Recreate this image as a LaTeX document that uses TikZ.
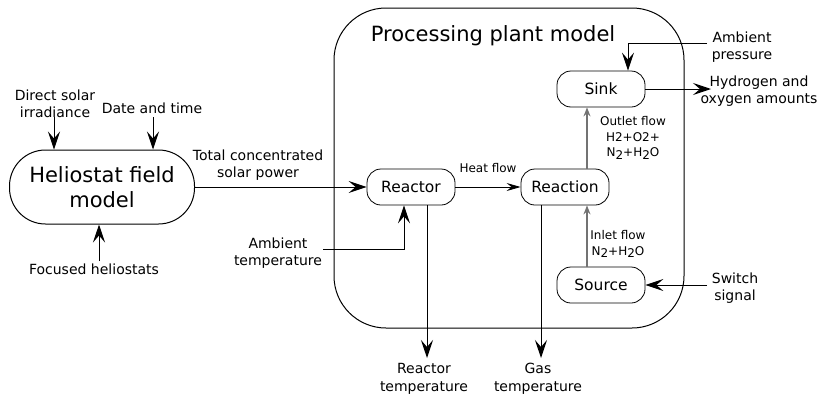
\documentclass[tikz,border=0pt]{standalone}
\usepackage{fontspec}
\setmainfont{DejaVu Sans}
\usetikzlibrary{arrows.meta}
\newcommand{\sub}[1]{\raisebox{-0.35ex}{#1}}
\tikzset{
  big/.style={font=\fontsize{21}{25}\selectfont},
  blk/.style={draw, line width=0.8pt, rounded corners=14pt, minimum width=88pt, minimum height=36pt, inner sep=0pt, font=\fontsize{15.5}{18}\selectfont},
  lbl/.style={align=center, inner sep=0pt, font=\fontsize{14}{17.5}\selectfont},
  sml/.style={align=center, inner sep=0pt, font=\fontsize{12}{15.5}\selectfont},
  bigarrow/.style={-{Stealth[length=18pt,width=12pt,inset=7pt]}, line width=1pt},
  midarrow/.style={-{Stealth[length=14pt,width=8pt,inset=5pt]}, line width=0.8pt},
  grayarrow/.style={-{Stealth[length=9pt,width=7pt,inset=3pt]}, line width=1.2pt, draw=black!55},
}
\begin{document}
\begin{tikzpicture}[x=1pt,y=-1pt]
\useasboundingbox (0,0) rectangle (822,394);
% plant box
\draw[line width=1pt, rounded corners=52pt] (334,8) rectangle (684,328);
\node[big, inner sep=0pt] (title) at (493,36) {Processing plant model};
% heliostat
\node[draw, line width=1pt, rounded corners=36pt, minimum width=185pt, minimum height=74pt, inner sep=0pt, align=center, big] (helio) at (102,187) {Heliostat field\\model};
% blocks
\node[blk] (reactor) at (411,187) {Reactor};
\node[blk] (reaction) at (565,187) {Reaction};
\node[blk] (sink) at (601,89) {Sink};
\node[blk] (source) at (601,285) {Source};
% labels
\node[lbl] (dsi) at (55,104) {Direct solar\\irradiance};
\node[lbl] (dat) at (152,108) {Date and time};
\node[lbl] (foc) at (94,269) {Focused heliostats};
\node[lbl] (tcs) at (258,165) {Total concentrated\\solar power};
\node[lbl] (ambt) at (278,253) {Ambient\\temperature};
\node[lbl] (rtemp) at (424,379) {Reactor\\temperature};
\node[lbl] (gtemp) at (538,379) {Gas\\temperature};
\node[lbl] (ambp) at (742,47) {Ambient\\pressure};
\node[lbl] (hyd) at (759,91) {Hydrogen and\\oxygen amounts};
\node[lbl] (sw) at (735,288) {Switch\\signal};
\node[sml] (heat) at (488,168) {Heat flow};
\node[sml] (outf) at (633,138) {Outlet flow\\H2+O2+\\N\sub{2}+H\sub{2}O};
\node[sml] (inf) at (618,244) {Inlet flow\\N\sub{2}+H\sub{2}O};
% coordinates for free ends
\coordinate (dsiS) at (54,117);
\coordinate (datS) at (153,117);
\coordinate (focS) at (99,261);
\coordinate (ambtS) at (323,249);
\coordinate (rtE) at (427,358);
\coordinate (gtE) at (541,358);
\coordinate (ambpS) at (707,43);
\coordinate (hydE) at (711,89);
\coordinate (swS) at (707,285);
% connectors
\draw[bigarrow] (dsiS) -- (dsiS |- helio.north);
\draw[bigarrow] (datS) -- (datS |- helio.north);
\draw[bigarrow] (focS) -- (focS |- helio.south);
\draw[bigarrow] (helio.east) -- (reactor.west);
\draw[bigarrow] (ambtS) -| ([xshift=-7pt]reactor.south);
\draw[bigarrow] ([xshift=16pt]reactor.south) -- (rtE);
\draw[bigarrow] ([xshift=-24pt]reaction.south) -- (gtE);
\draw[midarrow] (reactor.east) -- (reaction.west);
\draw[grayarrow] ([xshift=22pt]reaction.north) -- ([xshift=-14pt]sink.south);
\draw[grayarrow] ([xshift=-14pt]source.north) -- ([xshift=22pt]reaction.south);
\draw[bigarrow] (ambpS) -| ([xshift=27pt]sink.north);
\draw[bigarrow] (sink.east) -- (hydE);
\draw[bigarrow] (swS) -- (source.east);
\end{tikzpicture}
\end{document}
